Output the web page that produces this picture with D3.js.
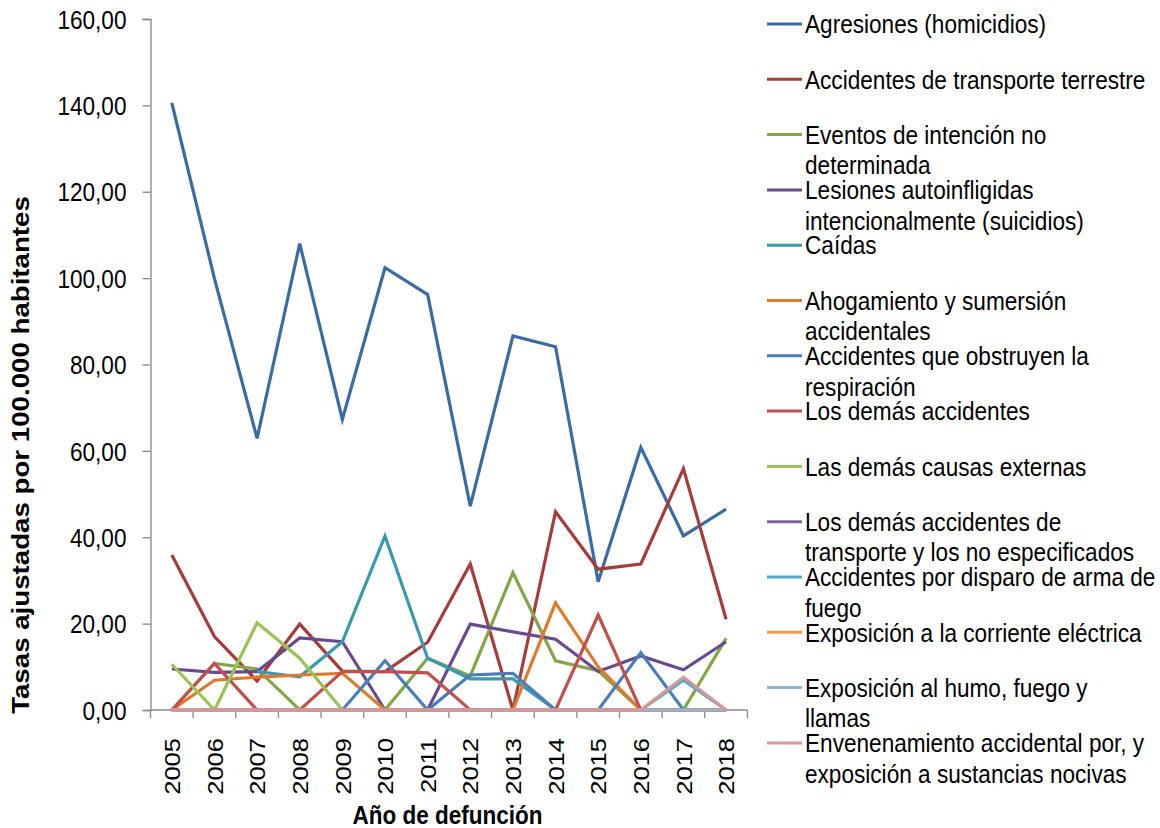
<!DOCTYPE html>
<html><head><meta charset="utf-8">
<script src="https://cdn.jsdelivr.net/npm/d3@7"></script>
<style>
body{margin:0;background:#fff}
text{font-family:"Liberation Sans",Arial,sans-serif;fill:#000}
</style></head>
<body><svg id="c" width="1160" height="828"></svg>
<script>
// ---- data ----
const years = [2005,2006,2007,2008,2009,2010,2011,2012,2013,2014,2015,2016,2017,2018];
const yTicks = [0,20,40,60,80,100,120,140,160];

const agresiones      = [140.6, 99.9, 62.9,108.0, 67.3,102.4, 96.2, 47.2, 86.6, 84.1, 29.7, 60.8, 40.3, 46.5];
const transporte      = [ 35.9, 17.0,  6.7, 19.9,  9.0,  8.9, 15.7, 33.8,  0.0, 45.9, 32.6, 33.8, 55.9, 21.0];
const eventos         = [  0.0, 10.8,  9.5,  0.0,  0.0,  0.0, 12.0,  7.9, 31.8, 11.4,  9.1,  0.0,  0.0, 16.6];
const lesiones        = [  9.5,  8.7,  8.9, 16.7, 15.8,  0.0,  0.0, 19.9, 18.1, 16.4,  8.9, 12.5,  9.3, 15.8];
const caidas          = [ null, null,  8.9,  7.7, 15.8, 40.3, 12.0,  7.2,  7.2,  0.0,  0.0,  0.0,  0.0,  0.0];
const ahogamiento     = [  0.0,  6.9,  7.6,  8.1,  8.5,  0.0,  0.0,  0.0,  0.0, 24.8, 10.0,  0.0,  0.0,  0.0];
const obstruyen       = [  0.0,  0.0,  0.0,  0.0,  0.0, 11.4,  0.0,  8.1,  8.5,  0.0,  0.0, 13.3,  0.0,  0.0];
const demasAccidentes = [  0.0, 10.8,  0.0,  0.0,  8.9,  8.9,  8.6,  0.0,  0.0,  0.0, 22.0,  0.0,  0.0,  0.0];
const demasCausas     = [ 10.6,  0.0, 20.2, 12.0,  0.0,  0.0,  0.0,  0.0,  0.0,  0.0,  0.0,  0.0,  0.0,  0.0];
const demasTransporte = [  0.0,  0.0,  0.0,  0.0,  0.0,  0.0,  0.0,  0.0,  0.0,  0.0,  0.0,  0.0,  0.0,  0.0];
const disparo         = [  0.0,  0.0,  0.0,  0.0,  0.0,  0.0,  0.0,  0.0,  0.0,  0.0,  0.0,  0.0,  6.9,  0.0];
const corriente       = [  0.0,  0.0,  0.0,  0.0,  0.0,  0.0,  0.0,  0.0,  0.0,  0.0,  0.0,  0.0,  0.0,  0.0];
const humo            = [  0.0,  0.0,  0.0,  0.0,  0.0,  0.0,  0.0,  0.0,  0.0,  0.0,  0.0,  0.0,  0.0,  0.0];
const envenenamiento  = [  0.0,  0.0,  0.0,  0.0,  0.0,  0.0,  0.0,  0.0,  0.0,  0.0,  0.0,  0.0,  7.6,  0.0];

const seriesValues = [agresiones, transporte, eventos, lesiones, caidas, ahogamiento, obstruyen,
  demasAccidentes, demasCausas, demasTransporte, disparo, corriente, humo, envenenamiento];

const seriesLabels = [
  ["Agresiones (homicidios)"],
  ["Accidentes de transporte terrestre"],
  ["Eventos de intención no","determinada"],
  ["Lesiones autoinfligidas","intencionalmente (suicidios)"],
  ["Caídas"],
  ["Ahogamiento y sumersión","accidentales"],
  ["Accidentes que obstruyen la","respiración"],
  ["Los demás accidentes"],
  ["Las demás causas externas"],
  ["Los demás accidentes de","transporte y los no especificados"],
  ["Accidentes por disparo de arma de","fuego"],
  ["Exposición a la corriente eléctrica"],
  ["Exposición al humo, fuego y","llamas"],
  ["Envenenamiento accidental por, y","exposición a sustancias nocivas"]
];

const yTitle = "Tasas ajustadas por 100.000 habitantes";
const xTitle = "Año de defunción";

// ---- styles ----
const colors = ["#3A6BA5","#A43D3A","#84A548","#684B8F","#3A98AF","#DB7B2B","#4A7EBB",
  "#C0504D","#9BC255","#8064A2","#4BACC6","#F79646","#95B3D7","#D99694"];
const K = 1.13;           // vertical text stretch
const FS = 22.6;
const axisColor = "#878787";

const svg = d3.select("#c");
const x = d3.scaleBand().domain(years).range([150.5, 747.4]).paddingInner(0).paddingOuter(0);
const cx = d => x(d) + x.bandwidth()/2;
const y = d3.scaleLinear().domain([0,160]).range([710,19]);

// y axis
const ya = svg.append("g").attr("transform","translate(150.5,0)")
  .call(d3.axisLeft(y).tickValues(yTicks).tickSize(8).tickPadding(16)
        .tickFormat(d => d3.format(".2f")(d).replace(".",",")));
ya.select(".domain").attr("stroke",axisColor).attr("stroke-width",1.3);
ya.selectAll(".tick line").attr("stroke",axisColor).attr("stroke-width",1.3);
ya.selectAll(".tick text").attr("font-size",FS).attr("font-family",null)
  .attr("dy","0.36em").attr("transform",`scale(1,${K})`).style("fill","#000");

// x axis
const xg = svg.append("g");
xg.append("line").attr("x1",x.range()[0]).attr("x2",x.range()[1])
  .attr("y1",y(0)).attr("y2",y(0)).attr("stroke",axisColor).attr("stroke-width",1.3);
const bounds = years.map(d => x(d)).concat([x.range()[1]]);
xg.selectAll("line.t").data(bounds).join("line").attr("class","t")
  .attr("x1",d=>d).attr("x2",d=>d).attr("y1",y(0)).attr("y2",y(0)+8)
  .attr("stroke",axisColor).attr("stroke-width",1.3);
xg.selectAll("text").data(years).join("text")
  .attr("transform", d => `translate(${cx(d)},738) scale(1,${K}) rotate(-90)`)
  .attr("text-anchor","end").attr("dy","0.36em").attr("font-size",FS).text(d=>d);

// titles
svg.append("text").attr("transform",`translate(20.5,455) scale(1,${K}) rotate(-90)`)
  .attr("text-anchor","middle").attr("dy","0.36em").attr("font-weight","bold")
  .attr("font-size",24.5).text(yTitle);
svg.append("text").attr("transform",`translate(447.5,824) scale(1,${K})`)
  .attr("text-anchor","middle").attr("font-weight","bold")
  .attr("font-size",22.5).text(xTitle);

// lines
const line = d3.line().defined(d => d[1] != null).x(d => cx(d[0])).y(d => y(d[1]));
seriesValues.forEach((vals,i) => {
  svg.append("path").datum(years.map((yr,j)=>[yr,vals[j]]))
    .attr("fill","none").attr("stroke",colors[i]).attr("stroke-width",3.2)
    .attr("stroke-linejoin","miter").attr("d",line);
});

// legend
const lg = svg.append("g");
seriesLabels.forEach((lines,i) => {
  const ly = 24 + i*55.3;
  lg.append("line").attr("x1",767).attr("x2",802).attr("y1",ly).attr("y2",ly)
    .attr("stroke",colors[i]).attr("stroke-width",3);
  lines.forEach((t,k) => {
    lg.append("text").attr("transform",`translate(805,${ly + k*30.5}) scale(1,${K})`)
      .attr("dy","0.36em").attr("font-size",FS).text(t);
  });
});
</script></body></html>
